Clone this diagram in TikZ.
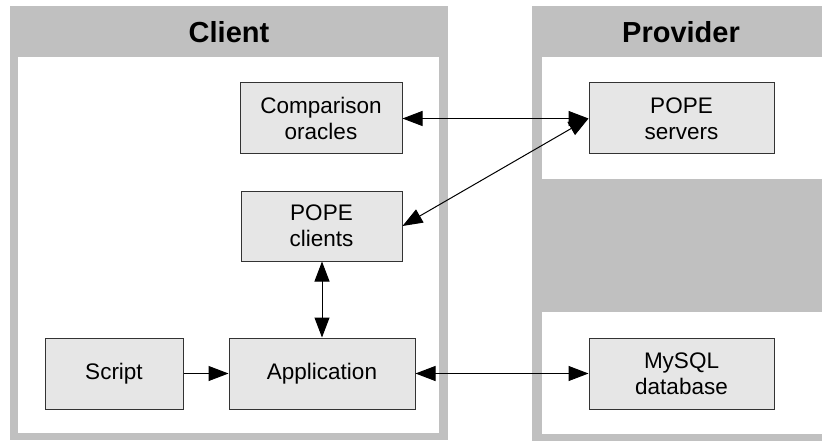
\documentclass[tikz,border=0pt]{standalone}
\usepackage{fontspec}
\setmainfont{Liberation Sans}
\usetikzlibrary{arrows.meta}
\definecolor{panelgray}{HTML}{C0C0C0}
\definecolor{boxfill}{HTML}{E6E6E6}
\definecolor{boxline}{HTML}{333333}
\tikzset{
  blockbox/.style={draw=boxline, line width=1pt, fill=boxfill, inner sep=0pt,
    align=center, font=\fontsize{22.5}{26}\selectfont,
    minimum height=71pt},
  link/.style={line width=1pt, {Triangle[length=20pt,width=15pt]}-{Triangle[length=20pt,width=15pt]}},
  onelink/.style={line width=1pt, -{Triangle[length=20pt,width=15pt]}},
  paneltitle/.style={font=\fontsize{29}{32}\selectfont\bfseries, inner sep=0pt}
}
\begin{document}
\begin{tikzpicture}[x=1pt, y=-1pt]
  \useasboundingbox (0,0) rectangle (822,441);
  \fill[white] (0,0) rectangle (822,441);

  % Client panel
  \fill[panelgray] (10,6) rectangle (448,440);
  \fill[white] (18,57) rectangle (439,433);
  \node[paneltitle] (clienttitle) at (229,32) {Client};

  % Provider panel
  \fill[panelgray] (532,6) rectangle (822,441);
  \fill[white] (542,57) rectangle (822,179);
  \fill[white] (542,312) rectangle (822,434);
  \node[paneltitle] (providertitle) at (681,32) {Provider};

  % Blocks
  \node[blockbox, minimum width=162pt] (oracles) at (321,118.5) {Comparison\\oracles};
  \node[blockbox, minimum width=185pt] (servers) at (681.5,118.5) {POPE\\servers};
  \node[blockbox, minimum width=161pt, minimum height=70pt] (clients) at (321.5,226) {POPE\\clients};
  \node[blockbox, minimum width=138pt] (script) at (114,373.5) {Script};
  \node[blockbox, minimum width=186pt] (app) at (322,373.5) {Application};
  \node[blockbox, minimum width=185pt] (mysql) at (681.5,373.5) {MySQL\\database};

  % Connectors
  \draw[link] (oracles.east) -- (servers.west);
  \draw[link] (clients.east) -- (servers.west);
  \draw[link] (clients.south -| app.north) -- (app.north);
  \draw[onelink] (script.east) -- (app.west);
  \draw[link] (app.east) -- (mysql.west);
\end{tikzpicture}
\end{document}
